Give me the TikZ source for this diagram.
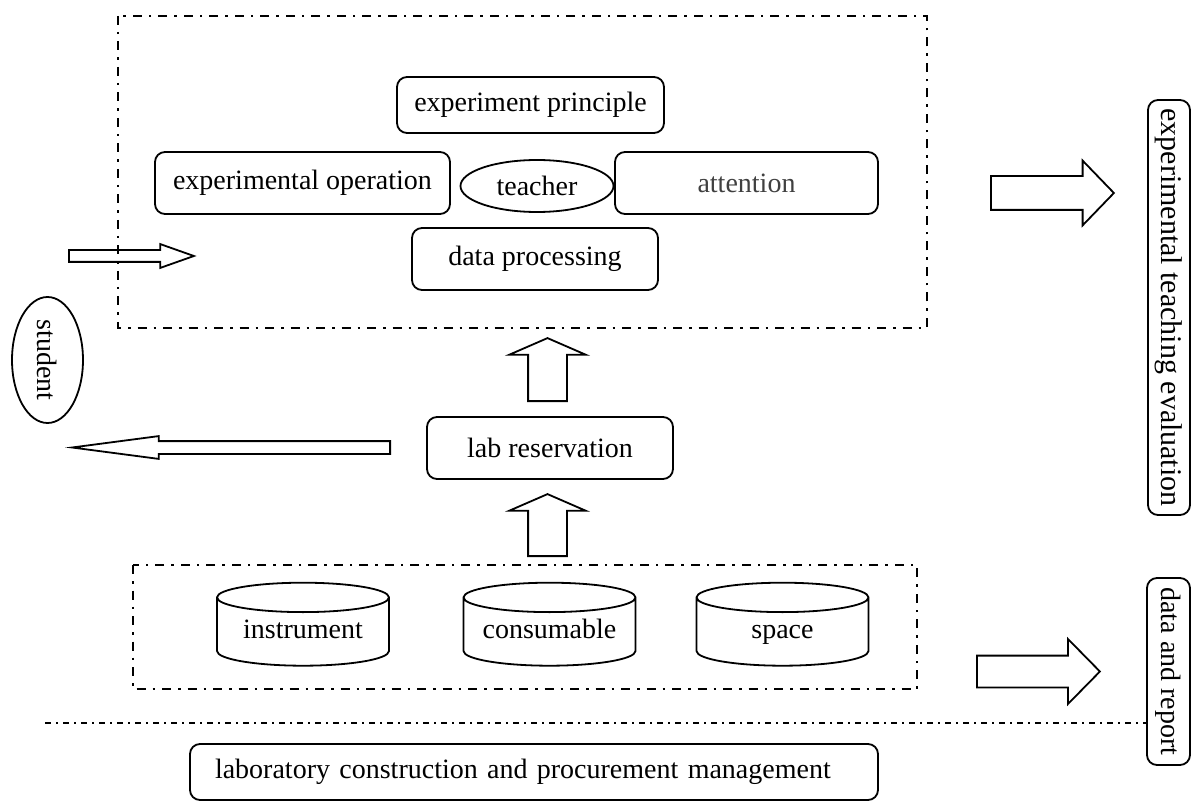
\documentclass[tikz,border=0pt]{standalone}
\usepackage{fontspec}
\setmainfont{Liberation Serif}
\usetikzlibrary{shapes.geometric,shapes.arrows}

\tikzset{box/.style={draw=black,line width=1.8pt,rounded corners=10pt,inner sep=0pt},
        store/.style={draw=black,line width=1.8pt,cylinder,shape border rotate=90,aspect=0.21,
        minimum width=172pt,minimum height=83pt,inner sep=0pt,text width=140pt,align=center,
        text height=19pt,text depth=6pt},
        blockarrow/.style={draw=black,line width=1.8pt,single arrow,inner xsep=0pt,anchor=tail,
        single arrow head indent=0pt},
        dashdot/.style={line width=2pt,dash pattern=on 9pt off 7pt on 2.5pt off 7pt},
        fineline/.style={line width=1.8pt,dash pattern=on 6pt off 5pt on 2pt off 5pt}}

\begin{document}
\begin{tikzpicture}[x=1pt,y=-1pt,font=\fontsize{28}{32}\selectfont]
        \useasboundingbox (0,0) rectangle (1203,805);

        % teaching block
        \draw[dashdot] (118,16) rectangle (927,328);
        \node[box,minimum width=267pt,minimum height=56pt] (principle) at (530.5,105) {experiment principle};
        \node[box,minimum width=295pt,minimum height=62pt] (operation) at (302.5,183) {experimental operation};
        \node[shape=ellipse,draw=black,line width=1.8pt,minimum width=153pt,minimum height=52pt,inner sep=0pt] (teacher) at (537,186) {teacher};
        \node[box,minimum width=263pt,minimum height=62pt,text=black!75] (attention) at (746.5,183) {attention};
        \node[box,minimum width=246pt,minimum height=62pt] (processing) at (535,259) {data processing};

        \node[shape=ellipse,draw=black,line width=1.8pt,minimum width=126pt,minimum height=71pt,inner sep=0pt,rotate=-90] (student) at (47.5,360) {student};
        \node[box,minimum width=246pt,minimum height=62pt] (reservation) at (550,448) {lab reservation};

        % resources
        \draw[dashdot] (133,565) rectangle (917,689);
        \node[store] (instrument) at (303,632) {instrument};
        \node[store] (consumable) at (549.5,632) {consumable};
        \node[store] (space) at (782.5,632) {space};

        \node[box,minimum width=415pt,minimum height=42pt,rotate=-90,font=\fontsize{30}{34}\selectfont] (evaluation) at (1169,307.5) {experimental teaching evaluation};
        \node[box,minimum width=187pt,minimum height=43pt,rotate=-90] (report) at (1168.5,671.5) {data and report};
        \node[box,minimum height=56pt,text width=638pt,inner xsep=25pt,align=left] (construction) at (534,772) {laboratory construction and procurement management};

        \coordinate (lineend) at (45,723);
        \draw[fineline] (lineend) -- (report.south |- lineend);

        % block arrows
        \node[blockarrow,minimum height=125pt,inner ysep=5pt,single arrow head extend=6pt,single arrow tip angle=39] (toteach) at (68,256) {};
        \node[blockarrow,minimum height=123pt,inner ysep=16pt,single arrow head extend=15.5pt,single arrow tip angle=92] (toeval) at (990,193) {};
        \node[blockarrow,minimum height=63pt,inner ysep=18.5pt,single arrow head extend=19pt,single arrow tip angle=133,rotate=90] (upper) at (547.5,402) {};
        \node[blockarrow,minimum height=62pt,inner ysep=18.5pt,single arrow head extend=19pt,single arrow tip angle=133,rotate=90] (lower) at (547.5,557) {};
        \node[blockarrow,minimum height=318pt,inner ysep=5.5pt,single arrow head extend=5pt,single arrow tip angle=15,rotate=180] (tostudent) at (391,447.5) {};
        \node[blockarrow,minimum height=123pt,inner ysep=15pt,single arrow head extend=16.5pt,single arrow tip angle=91] (toreport) at (976,671.5) {};
      \end{tikzpicture}
\end{document}
